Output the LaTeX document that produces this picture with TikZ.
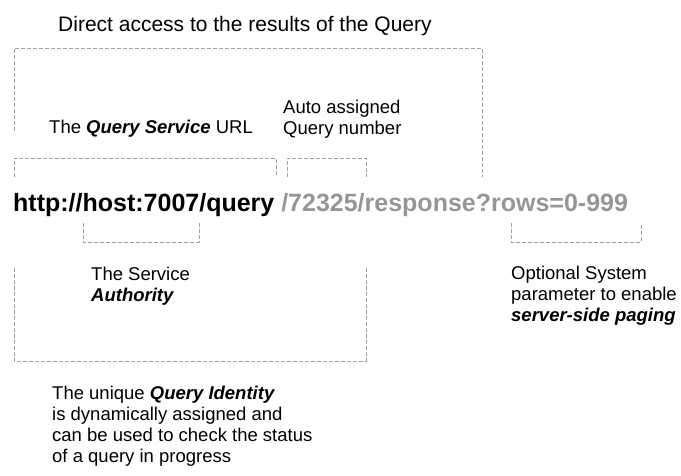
\documentclass[tikz,border=0pt]{standalone}
\usepackage{fontspec}
\setmainfont{Liberation Sans}
\usetikzlibrary{positioning}
\definecolor{urlgray}{RGB}{150,150,150}
\definecolor{dashgray}{RGB}{160,160,160}
\newcommand{\bi}[1]{\textbf{\textit{#1}}}

\begin{document}
\begin{tikzpicture}[
x=1pt, y=-1pt,
note/.style={anchor=base west, inner sep=0pt, align=left, font=\fontsize{18.5}{21}\selectfont},
bracket/.style={draw=dashgray, line width=0.8pt, dash pattern=on 4pt off 2pt}
]
\useasboundingbox (0,0) rectangle (681,475);

% multi-line notes are placed by the baseline of their last line
\node[note, font=\fontsize{21}{24}\selectfont] (access) at (58,31) {Direct access to the results of the Query};
\node[note] (svcurl) at (49,133) {The \bi{Query Service} URL};
\node[note] (qnum) at (283,134) {Auto assigned\\Query number};
\node[note, font=\fontsize{25}{28}\selectfont\bfseries] (url) at (13,211) {http://host:7007/query {\color{urlgray}/72325/response?rows=0-999}};
\node[note] (authority) at (91,301) {The Service\\\bi{Authority}};
\node[note] (paging) at (511,321) {Optional System\\parameter to enable\\\bi{server-side paging}};
\node[note] (identity) at (52,462) {The unique \bi{Query Identity}\\is dynamically assigned and\\can be used to check the status\\of a query in progress};

% brackets above the URL
\draw[bracket] (14,131) -- (14,48) -- (482,48) -- (482,177);
\draw[bracket] (14,177) -- (14,158) -- (276,158) -- (276,177);
\draw[bracket] (287,177) -- (287,158) -- (366,158) -- (366,177);
% brackets below the URL
\draw[bracket] (83,223) -- (83,242) -- (199,242) -- (199,223);
\draw[bracket] (511,223) -- (511,242) -- (641,242) -- (641,223);
\draw[bracket] (14,268) -- (14,361) -- (366,361) -- (366,268);

\end{tikzpicture}
\end{document}
